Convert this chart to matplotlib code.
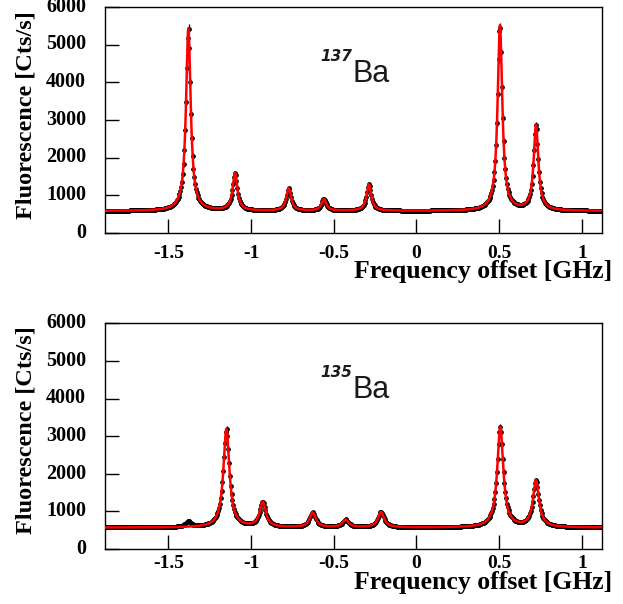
import numpy as np
import matplotlib
matplotlib.use("Agg")
import matplotlib.pyplot as plt
import matplotlib.transforms as mtransforms

# --- 137Ba hyperfine spectrum: Lorentzian components of the fit ---
ba137_centers = [-1.379, -1.097, -0.772, -0.559, -0.287, 0.505, 0.723]   # GHz
ba137_amplitudes = [4850, 990, 600, 310, 700, 4920, 2255]                # Cts/s above background
ba137_background = 585
ba137_hwhm = 0.017

# --- 135Ba hyperfine spectrum ---
ba135_centers = [-1.149, -0.929, -0.627, -0.428, -0.214, 0.507, 0.723]
ba135_amplitudes = [2610, 660, 390, 200, 410, 2660, 1235]
ba135_background = 570
ba135_hwhm = 0.022
# weak 137Ba admixture seen in the 135Ba scan (not included in the fit)
ba135_admixture_centers = [-1.38]
ba135_admixture_amplitudes = [150]

x_ticks = [-1.5, -1.0, -0.5, 0.0, 0.5, 1.0]
x_tick_labels = ["-1.5", "-1", "-0.5", "0", "0.5", "1"]
y_ticks = [0, 1000, 2000, 3000, 4000, 5000, 6000]
y_tick_labels = ["0", "1000", "2000", "3000", "4000", "5000", "6000"]
x_range = (-1.883, 1.122)
y_range = (0, 6000)
scan_step = 0.005


def lorentz_sum(x, centers, amps, hwhm, background):
    y = np.full_like(x, float(background))
    for c, a in zip(centers, amps):
        y += a * hwhm ** 2 / ((x - c) ** 2 + hwhm ** 2)
    return y


serif = ["Liberation Serif", "DejaVu Serif"]
plt.rcParams["font.family"] = serif
plt.rcParams["font.weight"] = "bold"

fig = plt.figure(figsize=(6.23, 6.04), dpi=100)

W, H = 623.0, 604.0
panels = [
    dict(rect=(105 / W, 1 - 233 / H, 497 / W, 226 / H),
         centers=ba137_centers, amps=ba137_amplitudes, bg=ba137_background,
         hwhm=ba137_hwhm, extra=([], []), mass="137",
         ylabel_y=1 - 115.5 / H, xlabel_y=1 - 278 / H, xtl_drop=25),
    dict(rect=(105 / W, 1 - 549 / H, 497 / W, 225.7 / H),
         centers=ba135_centers, amps=ba135_amplitudes, bg=ba135_background,
         hwhm=ba135_hwhm, extra=(ba135_admixture_centers, ba135_admixture_amplitudes),
         mass="135",
         ylabel_y=1 - 430 / H, xlabel_y=1 - 589 / H, xtl_drop=19.5),
]

for p in panels:
    ax = fig.add_axes(p["rect"])
    xs = np.arange(x_range[0], x_range[1], scan_step)
    counts = lorentz_sum(xs, p["centers"], p["amps"], p["hwhm"], p["bg"])
    if p["extra"][0]:
        counts += lorentz_sum(xs, p["extra"][0], p["extra"][1], 0.02, 0)
    ax.errorbar(xs, counts, yerr=1.6 * np.sqrt(counts), fmt="o", ms=2.4,
                color="black", ecolor="black", elinewidth=0.9, capsize=0, zorder=2)

    xf = np.linspace(x_range[0], x_range[1], 4000)
    ax.plot(xf, lorentz_sum(xf, p["centers"], p["amps"], p["hwhm"], p["bg"]),
            color="#ff0000", lw=1.8, zorder=3)

    ax.set_xlim(*x_range)
    ax.set_ylim(*y_range)
    ax.set_xticks(x_ticks)
    ax.set_yticks(y_ticks)
    ax.tick_params(direction="in", length=10, width=1.0, top=False, right=False,
                   labelbottom=False, labelleft=False)
    for s in ax.spines.values():
        s.set_linewidth(1.0)

    # tick labels, placed relative to the axis lines
    xtrans = ax.get_xaxis_transform() + mtransforms.ScaledTranslation(
        0, -p["xtl_drop"] / 100, fig.dpi_scale_trans)
    for xv, lab in zip(x_ticks, x_tick_labels):
        ax.text(xv, 0, lab, transform=xtrans, ha="center", va="baseline",
                fontsize=14, fontweight="bold", clip_on=False)
    ytrans = ax.get_yaxis_transform() + mtransforms.ScaledTranslation(
        -19 / 100, -4.8 / 100, fig.dpi_scale_trans)
    for yv, lab in zip(y_ticks, y_tick_labels):
        ax.text(0, yv, lab, transform=ytrans, ha="right", va="baseline",
                fontsize=14.5, fontweight="bold", clip_on=False)

    ax.text(-0.384, 4020, "Ba", fontsize=22, family="Liberation Sans",
            fontweight="normal", color="#1a1a1a", ha="left", va="baseline")
    ax.text(-0.39, 4560, p["mass"], fontsize=11, family="DejaVu Sans",
            fontweight="bold", fontstyle="italic", color="#1a1a1a",
            ha="right", va="baseline")

    fig.text(26 / W, p["ylabel_y"], "Fluorescence [Cts/s]", rotation=90,
             ha="center", va="center", fontweight="bold", fontsize=17.5)
    fig.text(612 / W, p["xlabel_y"], "Frequency offset [GHz]", ha="right",
             va="baseline", fontweight="bold", fontsize=18.5)

fig.savefig("out.png", dpi=100)
